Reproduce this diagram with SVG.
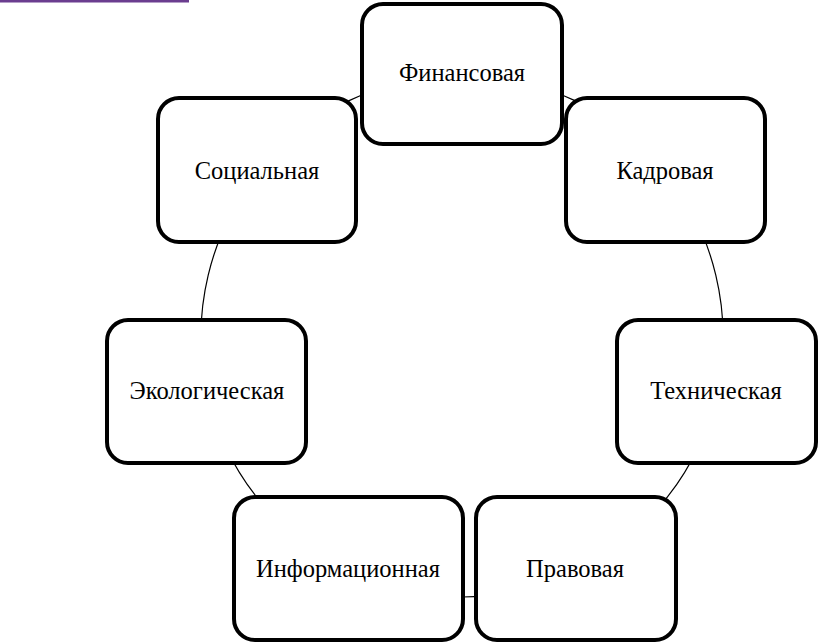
<svg xmlns="http://www.w3.org/2000/svg" width="818" height="643" viewBox="0 0 818 643">
<style>
.box{fill:#fff;stroke:#000;stroke-width:4}
.lbl{font-family:"Liberation Serif","Times New Roman",serif;font-size:24.5px;fill:#000;text-anchor:middle}
.arc{fill:none;stroke:#000;stroke-width:1.2}
</style>
<rect width="818" height="643" fill="#fff"/>
<line x1="0" y1="1.2" x2="189" y2="1.2" stroke="#6b3d8f" stroke-width="2.5"/>
<g id="connectors">
<path class="arc" d="M462,75 A261,261 0 0 1 664.8,171.7"/>
<path class="arc" d="M664.8,171.7 A261,261 0 0 1 717.3,390.3"/>
<path class="arc" d="M717.3,390.3 A261,261 0 0 1 576.4,570.6"/>
<path class="arc" d="M576.4,570.6 A261,261 0 0 1 347.6,570.6"/>
<path class="arc" d="M347.6,570.6 A261,261 0 0 1 206.7,390.3"/>
<path class="arc" d="M206.7,390.3 A261,261 0 0 1 259.2,171.7"/>
<path class="arc" d="M259.2,171.7 A261,261 0 0 1 462,75"/>
</g>
<g id="n-fin"><rect class="box" x="362" y="4" width="200" height="140" rx="21"/><text class="lbl" x="462" y="81">Финансовая</text></g>
<g id="n-kadr"><rect class="box" x="566" y="98" width="199" height="144" rx="21"/><text class="lbl" x="665" y="179">Кадровая</text></g>
<g id="n-tech"><rect class="box" x="617" y="320" width="199" height="143" rx="21"/><text class="lbl" x="716" y="399">Техническая</text></g>
<g id="n-prav"><rect class="box" x="476" y="497" width="200" height="143" rx="21"/><text class="lbl" x="575" y="577">Правовая</text></g>
<g id="n-info"><rect class="box" x="234" y="497" width="229" height="143" rx="21"/><text class="lbl" x="348" y="577">Информационная</text></g>
<g id="n-eko"><rect class="box" x="107" y="320" width="199" height="143" rx="21"/><text class="lbl" x="207" y="399">Экологическая</text></g>
<g id="n-soc"><rect class="box" x="158" y="98" width="198" height="144" rx="21"/><text class="lbl" x="257" y="179">Социальная</text></g>
</svg>
